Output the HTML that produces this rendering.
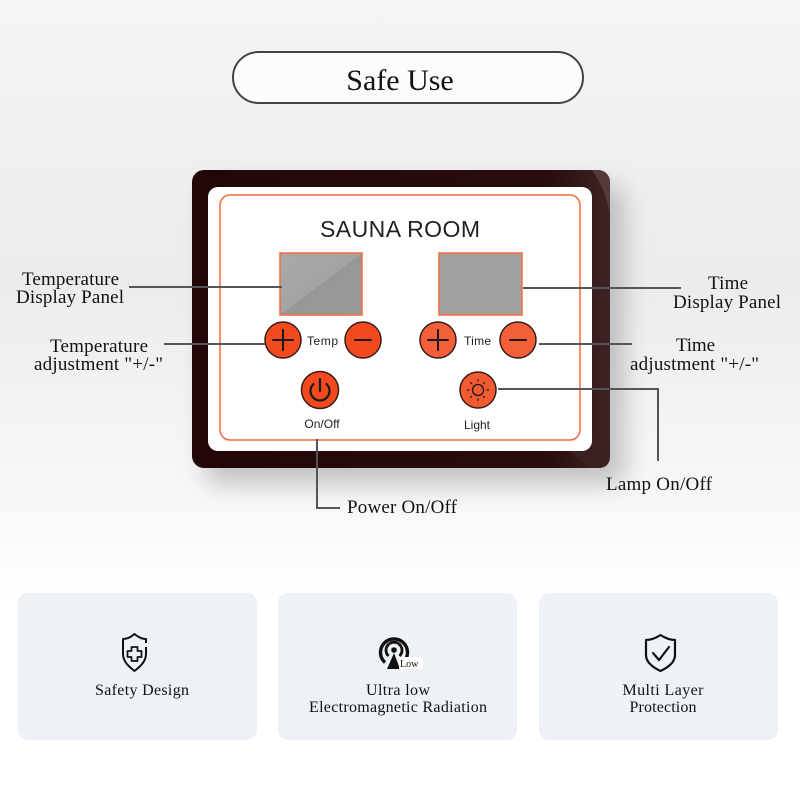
<!DOCTYPE html>
<html><head><meta charset="utf-8"><style>
html,body{margin:0;padding:0;width:800px;height:800px;overflow:hidden;background:#fff}
svg{display:block}
.s{font-family:"Liberation Serif",serif;fill:#111}
.ss{font-family:"Liberation Sans",sans-serif;fill:#222}
</style></head><body>
<svg width="800" height="800" viewBox="0 0 800 800" xmlns="http://www.w3.org/2000/svg">
<defs>
<linearGradient id="bg" x1="0" y1="0" x2="0" y2="1">
<stop offset="0" stop-color="#f4f4f4"/>
<stop offset="0.35" stop-color="#ececec"/>
<stop offset="0.62" stop-color="#f7f7f7"/>
<stop offset="0.75" stop-color="#ffffff"/>
<stop offset="1" stop-color="#ffffff"/>
</linearGradient>
<filter id="blur" x="-30%" y="-30%" width="160%" height="160%"><feGaussianBlur stdDeviation="12"/></filter>
<linearGradient id="frame" x1="0" y1="0" x2="1" y2="0">
<stop offset="0" stop-color="#220608"/>
<stop offset="0.85" stop-color="#2a0c0e"/>
<stop offset="1" stop-color="#3e2325"/>
</linearGradient>
<linearGradient id="disp" x1="0" y1="0" x2="1" y2="1">
<stop offset="0" stop-color="#a9a9a9"/>
<stop offset="0.5" stop-color="#a4a4a4"/>
<stop offset="0.5" stop-color="#979797"/>
<stop offset="1" stop-color="#9a9a9a"/>
</linearGradient>
</defs>
<rect width="800" height="800" fill="url(#bg)"/>

<!-- title pill -->
<rect x="233" y="52" width="350" height="51" rx="25.5" fill="#fcfcfc" stroke="#444" stroke-width="2"/>
<text x="400" y="90" class="s" font-size="30" text-anchor="middle">Safe Use</text>

<!-- panel shadow -->
<rect x="205" y="185" width="420" height="300" rx="14" fill="#9a9a9a" opacity="0.55" filter="url(#blur)"/>
<!-- panel frame -->
<rect x="192" y="170" width="418" height="298" rx="12" fill="url(#frame)"/>
<path d="M592,170 L598,170 Q610,171 610,184 L610,215 Q606,190 592,170 Z" fill="#55393b"/>
<path d="M592,438 L592,451 L570,451 L590,468 L598,468 Q610,468 610,456 L610,450 Z" fill="#3b2022"/>
<rect x="208" y="187" width="384" height="264" rx="10" fill="#fff"/>
<rect x="220" y="195" width="360" height="245" rx="10" fill="none" stroke="#f46a3e" stroke-width="1.5"/>

<text x="400" y="237" class="ss" font-size="23" text-anchor="middle" textLength="160" fill="#1e1e1e">SAUNA ROOM</text>

<!-- displays -->
<rect x="280" y="253" width="82" height="62" fill="url(#disp)" stroke="#f46a3e" stroke-width="1.5"/>
<rect x="439" y="253" width="83" height="62" fill="#a0a0a0" stroke="#f46a3e" stroke-width="1.5"/>

<!-- buttons -->
<g stroke="#3a1c14" stroke-width="1.5">
<circle cx="283" cy="340" r="18" fill="#f24a1e"/>
<circle cx="363" cy="340" r="18" fill="#f24a1e"/>
<circle cx="438" cy="340" r="18" fill="#f35f38"/>
<circle cx="518" cy="340" r="18" fill="#f35f38"/>
<circle cx="320" cy="390" r="18.5" fill="#f24a1e"/>
<circle cx="478" cy="390" r="18" fill="#f25a32"/>
</g>
<g stroke="#1a1a1a" stroke-width="2" fill="none" stroke-linecap="round">
<path d="M273,340 H293 M283,330 V350"/>
<path d="M355,340 H371"/>
<path d="M428,340 H448 M438,330 V350"/>
<path d="M510,340 H526"/>
<path d="M313.5,384 A9.5,9.5 0 1 0 326.5,384" stroke-width="2.2"/>
<path d="M320,379 V391" stroke-width="2.2"/>
<circle cx="478" cy="390" r="5.5" stroke-width="1.3"/>
<path d="M478,379.5 v1.5 M478,399 v1.5 M467.5,390 h1.5 M487,390 h1.5 M470.6,382.6 l1,1 M484.4,382.6 l-1,1 M470.6,397.4 l1,-1 M484.4,397.4 l-1,-1" stroke-width="1.2"/>
</g>
<text x="307" y="345" class="ss" font-size="12" textLength="31">Temp</text>
<text x="464" y="345" class="ss" font-size="12" textLength="27">Time</text>
<text x="322" y="428" class="ss" font-size="12" text-anchor="middle">On/Off</text>
<text x="477" y="429" class="ss" font-size="12" text-anchor="middle">Light</text>

<!-- connector lines -->
<g stroke="#555" stroke-width="2" fill="none">
<path d="M129,287 H282"/>
<path d="M164,344 H265"/>
<path d="M523,288 H681"/>
<path d="M539,344 H632"/>
<path d="M498,389 H658 V461"/>
<path d="M317,439 V508 H340"/>
</g>

<!-- labels -->
<text x="22" y="285" class="s" font-size="19" textLength="97">Temperature</text>
<text x="16" y="303" class="s" font-size="19" textLength="108">Display Panel</text>
<text x="50" y="352" class="s" font-size="19" textLength="98">Temperature</text>
<text x="34" y="370" class="s" font-size="19" textLength="129">adjustment "+/-"</text>
<text x="708" y="289" class="s" font-size="19" textLength="40">Time</text>
<text x="673" y="308" class="s" font-size="19" textLength="108">Display Panel</text>
<text x="676" y="351" class="s" font-size="19" textLength="39">Time</text>
<text x="630" y="370" class="s" font-size="19" textLength="129">adjustment "+/-"</text>
<text x="606" y="490" class="s" font-size="19" textLength="106">Lamp On/Off</text>
<text x="347" y="513" class="s" font-size="19" textLength="110">Power On/Off</text>

<!-- cards -->
<rect x="18" y="593" width="239" height="147" rx="10" fill="#eef2f6"/>
<rect x="278" y="593" width="239" height="147" rx="10" fill="#eef2f6"/>
<rect x="539" y="593" width="239" height="147" rx="10" fill="#eef2f6"/>

<!-- shield plus -->
<g fill="none" stroke="#111" stroke-width="2" stroke-linejoin="round">
<path d="M146,643 L146,639 C142,639 138,637 134.5,634 C131,637 127,639 123,639 L123,654 C123,661 128,666 134.5,671 C141,666 146,661 146,654 L146,647"/>
<path d="M131.5,647 h6 v4 h4 v6 h-4 v4 h-6 v-4 h-4 v-6 h4 z" stroke-width="1.8"/>
</g>
<!-- radiation -->
<g fill="none" stroke="#111">
<path d="M388.5,656 A8,8 0 1 1 399.5,656" stroke-width="2.8"/>
<path d="M385,662.5 A13.5,13.5 0 1 1 403,662.5" stroke-width="3.4"/>
</g>
<circle cx="394" cy="650" r="2.8" fill="#111"/>
<path d="M394,653 L400,669 L387,669 Z" fill="#111"/>
<rect x="399" y="657" width="24" height="12" fill="#fff"/>
<text x="400" y="667" class="s" font-size="10">Low</text>
<!-- shield check -->
<g fill="none" stroke="#111" stroke-width="2.2" stroke-linejoin="round" stroke-linecap="round">
<path d="M660.5,635 C656,638 651,640 646,640 L646,655 C646,662 652,667 660.5,671 C669,667 675,662 675,655 L675,640 C670,640 665,638 660.5,635 Z"/>
<path d="M653,653 L659,660 L669,647"/>
</g>

<text x="142" y="695" class="s" font-size="16" text-anchor="middle" textLength="94">Safety Design</text>
<text x="398" y="695" class="s" font-size="16" text-anchor="middle" textLength="64">Ultra low</text>
<text x="398" y="712" class="s" font-size="16" text-anchor="middle" textLength="178">Electromagnetic Radiation</text>
<text x="663" y="695" class="s" font-size="16" text-anchor="middle" textLength="81">Multi Layer</text>
<text x="663" y="712" class="s" font-size="16" text-anchor="middle" textLength="67">Protection</text>
</svg>
</body></html>
